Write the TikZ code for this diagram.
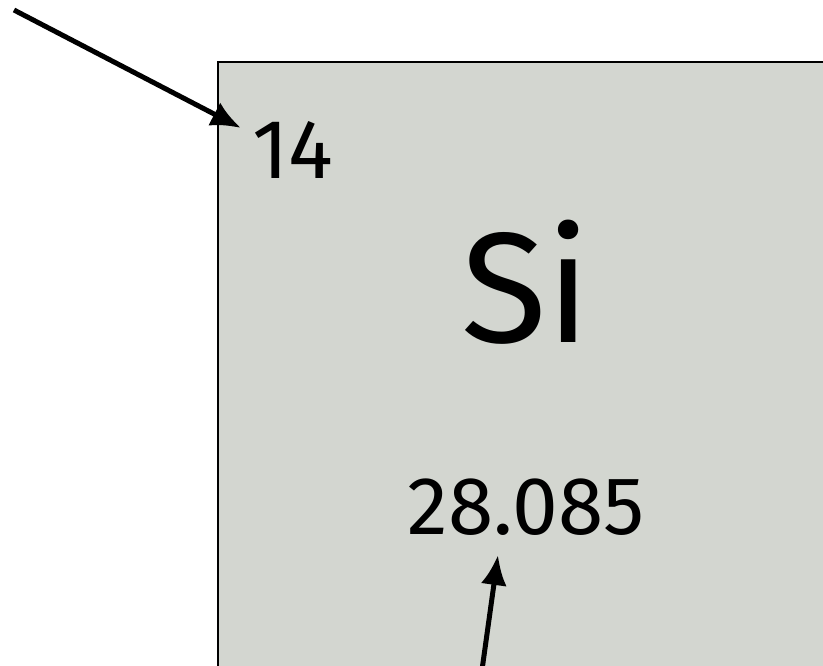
\documentclass[tikz,border=0pt]{standalone}
\usepackage{fontspec}
\setmainfont{Fira Sans}
\usetikzlibrary{arrows.meta}

\definecolor{cellgray}{HTML}{D3D6D0}

\begin{document}
\begin{tikzpicture}[x=1pt, y=-1pt,
    pointer/.style={line width=5pt, -{Latex[length=30pt, width=26pt]}},
    label/.style={inner sep=0pt, anchor=center}]
  \useasboundingbox (0,0) rectangle (823,665);
  \clip (0,0) rectangle (823,665);
  \filldraw[fill=cellgray, draw=black, line width=1.2pt] (218,62) rectangle (840,700);

  \node[label] (num) at (293,150) {\fontsize{84}{100}\selectfont 14};
  \node[label] (sym) at (526,282) {\fontsize{157}{190}\selectfont Si};
  \node[label] (mass) at (526,507) {\fontsize{82}{98}\selectfont 28.085};

  \coordinate (numtail) at (14,10);
  \coordinate (numtip) at (241,128);
  \coordinate (masstail) at (482,670);
  \coordinate (masstip) at (498,555);
  \draw[pointer] (numtail) -- (numtip);
  \draw[pointer] (masstail) -- (masstip);
\end{tikzpicture}
\end{document}
